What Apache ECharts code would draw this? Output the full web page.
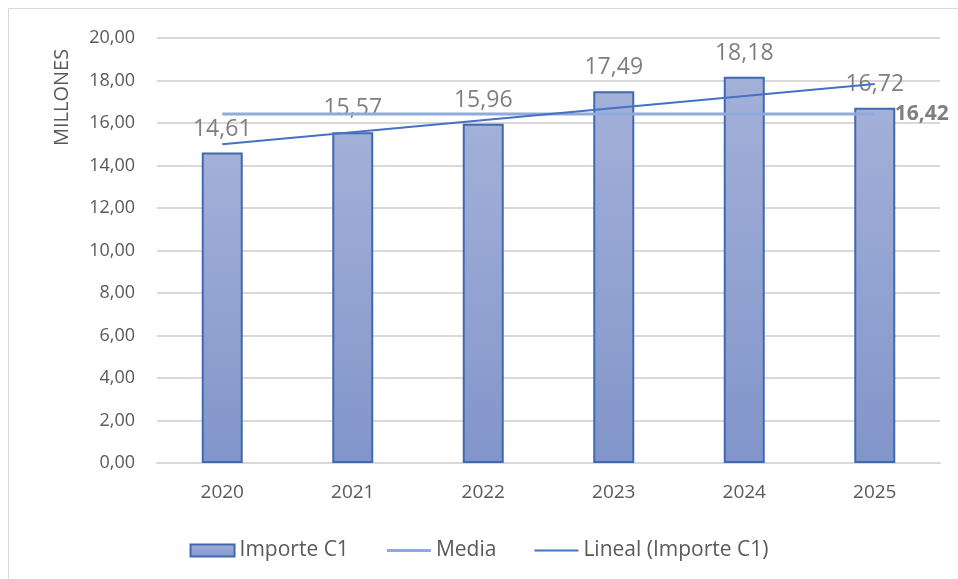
<!DOCTYPE html>
<html>
<head>
<meta charset="utf-8">
<script src="https://cdn.jsdelivr.net/npm/echarts@6/dist/echarts.min.js"></script>
<style>
  html, body { margin: 0; padding: 0; background: #fff; }
  #chart { width: 958px; height: 579px; }
</style>
</head>
<body>
<div id="chart"></div>
<script>
const years = ['2020', '2021', '2022', '2023', '2024', '2025'];
const importe = [14.61, 15.57, 15.96, 17.49, 18.18, 16.72];
const media = 16.42;
// trend line end points
const trendStart = 15.00;
const trendEnd = 17.84;

const fmt = v => v.toFixed(2).replace('.', ',');
const font = "'Open Sans', 'Noto Sans', sans-serif";
const lineIcon = w => `path://M0,0 L44,0 L44,${w} L0,${w} Z`;

const chart = echarts.init(document.getElementById('chart'), null, { renderer: 'canvas' });

chart.setOption({
  animation: false,
  textStyle: { fontFamily: font },
  grid: { left: 157, right: 18, top: 38, bottom: 116 },
  legend: {
    top: 535,
    left: 'center',
    itemGap: 38,
    itemWidth: 44,
    itemHeight: 12,
    textStyle: { fontSize: 21, color: '#595959', fontFamily: font },
    data: [
      { name: 'Importe C1', icon: 'rect', itemWidth: 54 },
      { name: 'Media', icon: lineIcon(3) },
      { name: 'Lineal (Importe C1)', icon: lineIcon(2) }
    ]
  },
  graphic: [
    {
      type: 'rect',
      shape: { x: 8.5, y: 8.5, width: 1000, height: 1000 },
      style: { fill: 'none', stroke: '#d9d9d9', lineWidth: 1 },
      silent: true
    },
    {
      type: 'text',
      x: 52, y: 146,
      rotation: Math.PI / 2,
      style: { text: 'MILLONES', fill: '#595959', fontSize: 20, fontFamily: font }
    }
  ],
  xAxis: {
    type: 'category',
    data: years,
    axisLine: { lineStyle: { color: '#d9d9d9', width: 2 } },
    axisTick: { show: false },
    axisLabel: { color: '#595959', fontSize: 19, margin: 20 }
  },
  yAxis: {
    type: 'value',
    min: 0,
    max: 20,
    interval: 2,
    axisLine: { show: false },
    axisTick: { show: false },
    splitLine: { lineStyle: { color: '#d9d9d9', width: 2 } },
    axisLabel: { color: '#595959', fontSize: 18, margin: 22, formatter: v => fmt(v) }
  },
  series: [
    {
      name: 'Importe C1',
      type: 'bar',
      data: importe,
      barWidth: 41,
      itemStyle: {
        color: new echarts.graphic.LinearGradient(0, 0, 0, 1, [
          { offset: 0, color: '#a3b0d8' },
          { offset: 1, color: '#8295ca' }
        ]),
        borderColor: '#4169b0',
        borderWidth: 2
      },
      label: {
        show: true,
        position: 'top',
        distance: 12,
        color: '#7f7f7f',
        fontSize: 23,
        formatter: p => fmt(p.value)
      },
      z: 2
    },
    {
      name: 'Media',
      type: 'line',
      data: years.map(() => media),
      symbol: 'none',
      lineStyle: { color: '#8faadc', width: 3 },
      itemStyle: { color: '#8faadc' },
      endLabel: {
        show: true,
        formatter: p => fmt(p.value),
        color: '#7f7f7f',
        fontWeight: 'bold',
        fontSize: 21,
        distance: 20
      },
      z: 3
    },
    {
      name: 'Lineal (Importe C1)',
      type: 'line',
      data: [trendStart, null, null, null, null, trendEnd],
      connectNulls: true,
      symbol: 'none',
      lineStyle: { color: '#4472c4', width: 2 },
      itemStyle: { color: '#4472c4' },
      z: 4
    }
  ]
});
</script>
</body>
</html>
